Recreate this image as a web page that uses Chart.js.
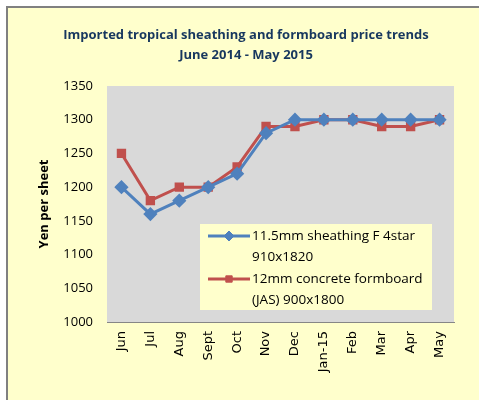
<!DOCTYPE html>
<html>
<head>
<meta charset="utf-8">
<script src="https://cdn.jsdelivr.net/npm/chart.js@4"></script>
<style>
  html, body { margin: 0; padding: 0; background: #ffffff; }
  #wrap { width: 479px; height: 400px; position: relative; }
</style>
</head>
<body>
<div id="wrap"><canvas id="myChart" width="479" height="400"></canvas></div>
<script>
var months = ['Jun', 'Jul', 'Aug', 'Sept', 'Oct', 'Nov', 'Dec', 'Jan-15', 'Feb', 'Mar', 'Apr', 'May'];
var sheathing = [1200, 1160, 1180, 1200, 1220, 1280, 1300, 1300, 1300, 1300, 1300, 1300];
var formboard = [1250, 1180, 1200, 1200, 1230, 1290, 1290, 1300, 1300, 1290, 1290, 1300];
var sheathingLegend = ['11.5mm sheathing F 4star', '910x1820'];
var formboardLegend = ['12mm concrete formboard', '(JAS) 900x1800'];
var titleLines = ['Imported tropical sheathing and formboard price trends', 'June 2014 - May 2015'];

var blue = '#4F81BD';
var red = '#C0504D';

// yellow panel with grey frame behind everything, plus the two-line title
var panelBg = {
    id: 'panelBg',
    beforeDraw: function (chart) {
        var c = chart.ctx;
        c.save();
        c.fillStyle = '#FFFFCC';
        c.fillRect(7, 7, chart.width, chart.height);
        c.strokeStyle = '#808080';
        c.lineWidth = 2;
        c.strokeRect(7, 7, chart.width + 10, chart.height + 10);
        c.fillStyle = '#17375E';
        c.font = 'bold 13px "Open Sans"';
        c.textAlign = 'center';
        c.textBaseline = 'middle';
        c.fillText(titleLines[0], 246, 35);
        c.fillText(titleLines[1], 246, 55);
        c.restore();
    },
    beforeDatasetsDraw: function (chart) {
        var a = chart.chartArea;
        var c = chart.ctx;
        c.save();
        c.fillStyle = '#D9D9D9';
        c.fillRect(a.left, a.top, a.right - a.left, a.bottom - a.top);
        c.restore();
    }
};

// legend box sitting inside the plot area
var boxLegend = {
    id: 'boxLegend',
    afterDatasetsDraw: function (chart) {
        var c = chart.ctx;
        var x0 = 200, y0 = 224, w = 232, h = 86;
        c.save();
        c.fillStyle = '#FFFFCC';
        c.fillRect(x0, y0, w, h);
        var groups = [sheathingLegend, formboardLegend];
        chart.data.datasets.forEach(function (ds, i) {
            var ly = y0 + 12 + i * 43;
            c.strokeStyle = ds.borderColor;
            c.lineWidth = 3;
            c.beginPath();
            c.moveTo(x0 + 8, ly);
            c.lineTo(x0 + 50, ly);
            c.stroke();
            c.fillStyle = ds.borderColor;
            c.lineWidth = 1;
            Chart.helpers.drawPoint(c, { pointStyle: ds.pointStyle, radius: ds.pointRadius, borderWidth: 1 }, x0 + 29, ly);
            c.fillStyle = '#000';
            c.font = '13.5px "Open Sans"';
            c.textBaseline = 'middle';
            c.fillText(groups[i][0], x0 + 52, ly);
            c.fillText(groups[i][1], x0 + 52, ly + 21);
        });
        c.restore();
    }
};

var ctx = document.getElementById('myChart');
var chart = new Chart(ctx, {
    type: 'line',
    data: {
        labels: months,
        datasets: [{
            label: sheathingLegend.join(' '),
            data: sheathing,
            borderColor: blue,
            backgroundColor: blue,
            borderWidth: 3,
            pointStyle: 'rectRot',
            pointRadius: 5,
            pointHoverRadius: 5
        }, {
            label: formboardLegend.join(' '),
            data: formboard,
            borderColor: red,
            backgroundColor: red,
            borderWidth: 3,
            pointStyle: 'rect',
            pointRadius: 4.5,
            pointHoverRadius: 4.5
        }]
    },
    options: {
        responsive: false,
        animation: false,
        layout: { padding: { left: 36, right: 25, top: 86, bottom: 0 } },
        plugins: {
            legend: { display: false },
            tooltip: { enabled: false },
            title: { display: false }
        },
        scales: {
            x: {
                offset: true,
                grid: { display: false, drawTicks: false },
                border: { color: '#868686', width: 1 },
                ticks: {
                    color: '#000',
                    font: { family: '"DejaVu Sans"', size: 13 },
                    minRotation: 90,
                    maxRotation: 90,
                    padding: 9,
                    autoSkip: false
                },
                afterFit: function (s) { s.height = 78; }
            },
            y: {
                min: 1000,
                max: 1350,
                grid: { color: '#868686', drawTicks: false },
                border: { color: '#868686', width: 1 },
                ticks: {
                    stepSize: 50,
                    color: '#000',
                    font: { family: '"Open Sans"', size: 13 },
                    padding: 14,
                    callback: function (v) { return String(v); }
                },
                title: {
                    display: true,
                    text: 'Yen per sheet',
                    color: '#000',
                    font: { family: '"Open Sans"', size: 13, weight: 'bold' },
                    padding: { top: 0, bottom: 0 }
                },
                afterFit: function (s) { s.width = 71; }
            }
        }
    },
    plugins: [panelBg, boxLegend]
});
</script>
</body>
</html>
